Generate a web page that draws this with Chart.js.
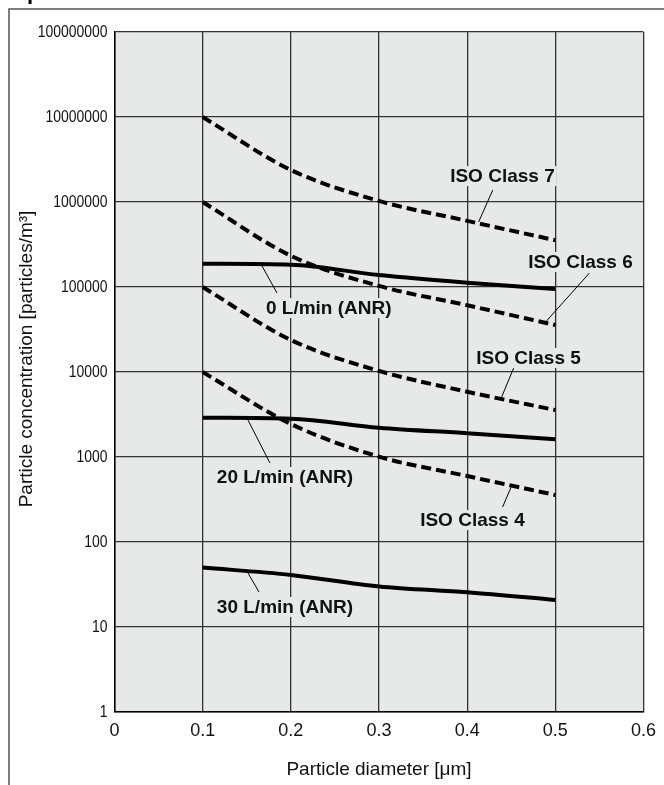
<!DOCTYPE html>
<html>
<head>
<meta charset="utf-8">
<script src="https://cdn.jsdelivr.net/npm/chart.js@4.4.1/dist/chart.umd.min.js"></script>
<style>
  html, body { margin: 0; padding: 0; background: #fff; }
  canvas { display: block; }
</style>
</head>
<body>
<canvas id="particleChart" width="664" height="785"></canvas>
<script>
// Particle concentration vs diameter (log scale), ISO classes and flow rates

const diameters = [0.1, 0.2, 0.3, 0.4, 0.5];

// ISO class limits (dashed)
const isoClass7 = [10000000, 2380000, 1030000, 600000, 355000];
const isoClass6 = [1000000, 233000, 103000, 61000, 35700];
const isoClass5 = [100000, 23800, 10300, 5860, 3570];
const isoClass4 = [10000, 2450, 1010, 597, 357];

// measured concentration at each flow rate (solid)
const flow0 = [188000, 183000, 138000, 112000, 94700];
const flow20 = [2900, 2820, 2210, 1900, 1616];
const flow30 = [50, 41, 30, 25.6, 20.8];

const yTicks = [1, 10, 100, 1000, 10000, 100000, 1000000, 10000000, 100000000];
const xTicks = [0, 0.1, 0.2, 0.3, 0.4, 0.5, 0.6];

// annotation labels and leader lines, in data units
const labelTexts = ['ISO Class 7', 'ISO Class 6', '0 L/min (ANR)', 'ISO Class 5', '20 L/min (ANR)', 'ISO Class 4', '30 L/min (ANR)'];
const labelX = [0.440, 0.5285, 0.243, 0.4696, 0.1933, 0.406, 0.1933];
const labelY = [2020000, 197000, 56600, 14600, 582, 181, 17.2];
const leaderFromX = [0.429, 0.5387, 0.1843, 0.4527, 0.1763, 0.4402, 0.1639];
const leaderFromY = [1380000, 146000, 85000, 11100, 850, 258, 25.8];
const leaderToX = [0.413, 0.4889, 0.1673, 0.4391, 0.1514, 0.4504, 0.1514];
const leaderToY = [582000, 38700, 177000, 5080, 2720, 456, 43.2];

const yTitle = 'Particle concentration [particles/m³]';
const plotBg = '#e7e8e8';
const sans = '"Liberation Sans", Arial, sans-serif';

const toPoints = values => values.map((v, i) => ({ x: diameters[i], y: v }));

const dashedSet = values => ({
    data: toPoints(values),
    borderColor: '#000',
    borderWidth: 4,
    borderDash: [10, 5],
    pointRadius: 0,
    cubicInterpolationMode: 'monotone',
    fill: false
});

const solidSet = values => ({
    data: toPoints(values),
    borderColor: '#000',
    borderWidth: 4,
    pointRadius: 0,
    cubicInterpolationMode: 'monotone',
    fill: false
});

const decorPlugin = {
    id: 'decor',
    beforeDraw(chart) {
        const ctx = chart.ctx;
        const a = chart.chartArea;
        ctx.save();
        ctx.fillStyle = '#fff';
        ctx.fillRect(0, 0, chart.width, chart.height);
        ctx.fillStyle = plotBg;
        ctx.fillRect(a.left, a.top, a.right - a.left, a.bottom - a.top);
        // outer frame, cut off at right and bottom
        ctx.strokeStyle = '#555';
        ctx.lineWidth = 1.5;
        ctx.beginPath();
        ctx.moveTo(9, chart.height + 2);
        ctx.lineTo(9, 9);
        ctx.lineTo(chart.width + 2, 9);
        ctx.stroke();
        // clipped heading glyph above the frame
        ctx.fillStyle = '#000';
        ctx.font = 'bold 22px ' + sans;
        ctx.textBaseline = 'alphabetic';
        ctx.fillText('p', 27, -1);

        // y tick labels in a condensed face
        const ys = chart.scales.y;
        ctx.fillStyle = '#111';
        ctx.font = '16px ' + sans;
        ctx.textAlign = 'right';
        ctx.textBaseline = 'middle';
        yTicks.forEach(v => {
            const py = ys.getPixelForValue(v);
            ctx.save();
            ctx.translate(a.left - 7, py + 1);
            ctx.scale(0.87, 1);
            ctx.fillText(String(v), 0, 0);
            ctx.restore();
        });

        // y axis title
        ctx.save();
        ctx.translate(27, 359);
        ctx.rotate(-Math.PI / 2);
        ctx.textAlign = 'center';
        ctx.font = '19px ' + sans;
        ctx.fillText(yTitle, 0, 0);
        ctx.restore();
        ctx.restore();
    },
    afterDatasetsDraw(chart) {
        const ctx = chart.ctx;
        const xs = chart.scales.x;
        const ys = chart.scales.y;
        ctx.save();
        ctx.strokeStyle = '#000';
        ctx.lineWidth = 1;
        for (let i = 0; i < labelTexts.length; i++) {
            ctx.beginPath();
            ctx.moveTo(xs.getPixelForValue(leaderFromX[i]), ys.getPixelForValue(leaderFromY[i]));
            ctx.lineTo(xs.getPixelForValue(leaderToX[i]), ys.getPixelForValue(leaderToY[i]));
            ctx.stroke();
        }
        ctx.font = 'bold 19px ' + sans;
        ctx.textAlign = 'center';
        ctx.textBaseline = 'middle';
        for (let i = 0; i < labelTexts.length; i++) {
            const px = xs.getPixelForValue(labelX[i]);
            const py = ys.getPixelForValue(labelY[i]);
            const w = ctx.measureText(labelTexts[i]).width;
            ctx.fillStyle = plotBg;
            ctx.fillRect(px - w / 2 - 2, py - 10, w + 4, 20);
            ctx.fillStyle = '#111';
            ctx.fillText(labelTexts[i], px, py + 1);
        }
        ctx.restore();
    }
};

const ctx = document.getElementById('particleChart').getContext('2d');
new Chart(ctx, {
    type: 'line',
    data: {
        datasets: [
            dashedSet(isoClass7),
            dashedSet(isoClass6),
            dashedSet(isoClass5),
            dashedSet(isoClass4),
            solidSet(flow0),
            solidSet(flow20),
            solidSet(flow30)
        ]
    },
    options: {
        responsive: false,
        animation: false,
        layout: { padding: { left: 0, right: 20, top: 32, bottom: 0 } },
        plugins: {
            legend: { display: false },
            tooltip: { enabled: false }
        },
        scales: {
            x: {
                type: 'linear',
                min: 0,
                max: 0.6,
                afterBuildTicks: s => { s.ticks = xTicks.map(v => ({ value: v })); },
                afterFit: s => { s.height = 73; },
                grid: { color: '#333', lineWidth: 1.3, drawTicks: false },
                border: { display: true, color: '#000', width: 1.5 },
                ticks: {
                    padding: 8,
                    color: '#111',
                    font: { family: sans, size: 18 },
                    callback: v => String(Number(v.toFixed(1)))
                },
                title: {
                    display: true,
                    text: 'Particle diameter [μm]',
                    color: '#111',
                    font: { family: sans, size: 19 },
                    padding: { top: 4, bottom: 4 }
                }
            },
            y: {
                type: 'logarithmic',
                min: 1,
                max: 100000000,
                afterBuildTicks: s => { s.ticks = yTicks.map(v => ({ value: v })); },
                afterFit: s => { s.width = 114.5; },
                grid: { color: '#333', lineWidth: 1.3, drawTicks: false },
                border: { display: true, color: '#000', width: 1.5 },
                ticks: { display: false },
                title: { display: false }
            }
        }
    },
    plugins: [decorPlugin]
});
</script>
</body>
</html>
